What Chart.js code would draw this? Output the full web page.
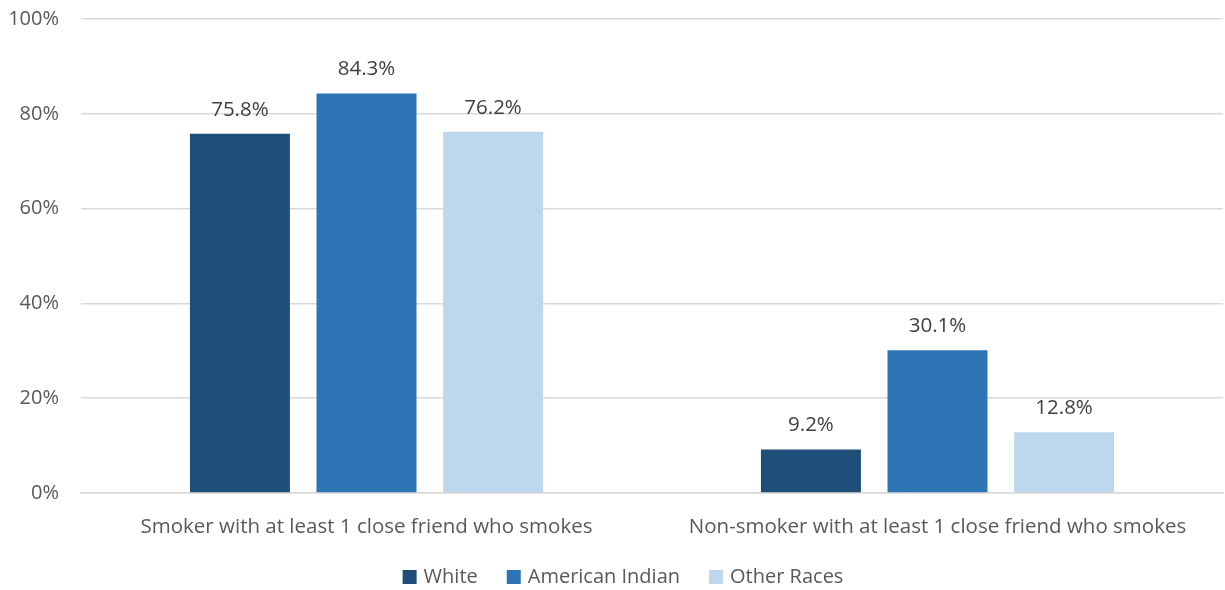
<!DOCTYPE html>
<html>
<head>
<meta charset="utf-8">
<script src="https://cdn.jsdelivr.net/npm/chart.js@4/dist/chart.umd.min.js"></script>
<style>
html,body{margin:0;padding:0;background:#fff;}
#wrap{width:1225px;height:590px;position:relative;}
</style>
</head>
<body>
<div id="wrap"><canvas id="c" width="1225" height="590"></canvas></div>
<script>
const categories = ["Smoker with at least 1 close friend who smokes", "Non-smoker with at least 1 close friend who smokes"];
const seriesNames = ["White", "American Indian", "Other Races"];
const whiteValues = [75.8, 9.2];
const americanIndianValues = [84.3, 30.1];
const otherRacesValues = [76.2, 12.8];
const yTicks = [0, 20, 40, 60, 80, 100];
const colors = ["#1F4E79", "#2E75B6", "#BDD7EE"];

const FONT = "'Open Sans', 'Liberation Sans', sans-serif";
const TXT = "#595959";

const dataLabels = {
  id: 'dataLabels',
  afterDatasetsDraw(chart) {
    const ctx = chart.ctx;
    ctx.save();
    ctx.font = "20.5px " + FONT;
    ctx.fillStyle = "#404040";
    ctx.textAlign = "center";
    ctx.textBaseline = "middle";
    chart.data.datasets.forEach((ds, i) => {
      const meta = chart.getDatasetMeta(i);
      meta.data.forEach((bar, j) => {
        ctx.fillText(ds.data[j].toFixed(1) + "%", bar.x, bar.y - 24);
      });
    });
    ctx.restore();
  }
};

const customLegend = {
  id: 'customLegend',
  afterDraw(chart) {
    const ctx = chart.ctx;
    ctx.save();
    ctx.font = "20px " + FONT;
    ctx.textBaseline = "middle";
    ctx.textAlign = "left";
    const box = 14, gapText = 7, gapItem = 29;
    const items = chart.data.datasets.map(ds => ({ label: ds.label, color: ds.backgroundColor, w: ctx.measureText(ds.label).width }));
    let total = 0;
    items.forEach((it, i) => { total += box + gapText + it.w + (i < items.length - 1 ? gapItem : 0); });
    let x = 623 - total / 2;
    const y = 577;
    items.forEach(it => {
      ctx.fillStyle = it.color;
      ctx.fillRect(x, y - box / 2, box, box);
      x += box + gapText;
      ctx.fillStyle = TXT;
      ctx.fillText(it.label, x, y);
      x += it.w + gapItem;
    });
    ctx.restore();
  }
};

new Chart(document.getElementById('c'), {
  type: 'bar',
  data: {
    labels: categories,
    datasets: [
      { label: seriesNames[0], data: whiteValues, backgroundColor: colors[0] },
      { label: seriesNames[1], data: americanIndianValues, backgroundColor: colors[1] },
      { label: seriesNames[2], data: otherRacesValues, backgroundColor: colors[2] }
    ]
  },
  options: {
    responsive: false,
    animation: false,
    devicePixelRatio: 1,
    categoryPercentage: 0.665,
    barPercentage: 0.79,
    layout: { padding: { top: 19, right: 2, left: 0, bottom: 37 } },
    plugins: {
      legend: { display: false },
      tooltip: { enabled: false }
    },
    scales: {
      x: {
        grid: { display: false },
        border: { color: "#D9D9D9", width: 1.5 },
        ticks: { font: { family: FONT, size: 20.5 }, color: TXT, padding: 14, maxRotation: 0 },
        afterFit(s) { s.height = 60; s.paddingLeft = 0; s.paddingRight = 0; }
      },
      y: {
        min: 0, max: 100,
        afterBuildTicks(s) { s.ticks = yTicks.map(v => ({ value: v })); },
        grid: { color: "#D9D9D9", lineWidth: 1.5, drawTicks: false },
        border: { display: false },
        ticks: { font: { family: FONT, size: 20 }, color: TXT, padding: 22, callback: v => v + "%" },
        afterFit(s) { s.width = 81; s.paddingTop = 0; s.paddingBottom = 0; }
      }
    }
  },
  plugins: [dataLabels, customLegend]
});
</script>
</body>
</html>
